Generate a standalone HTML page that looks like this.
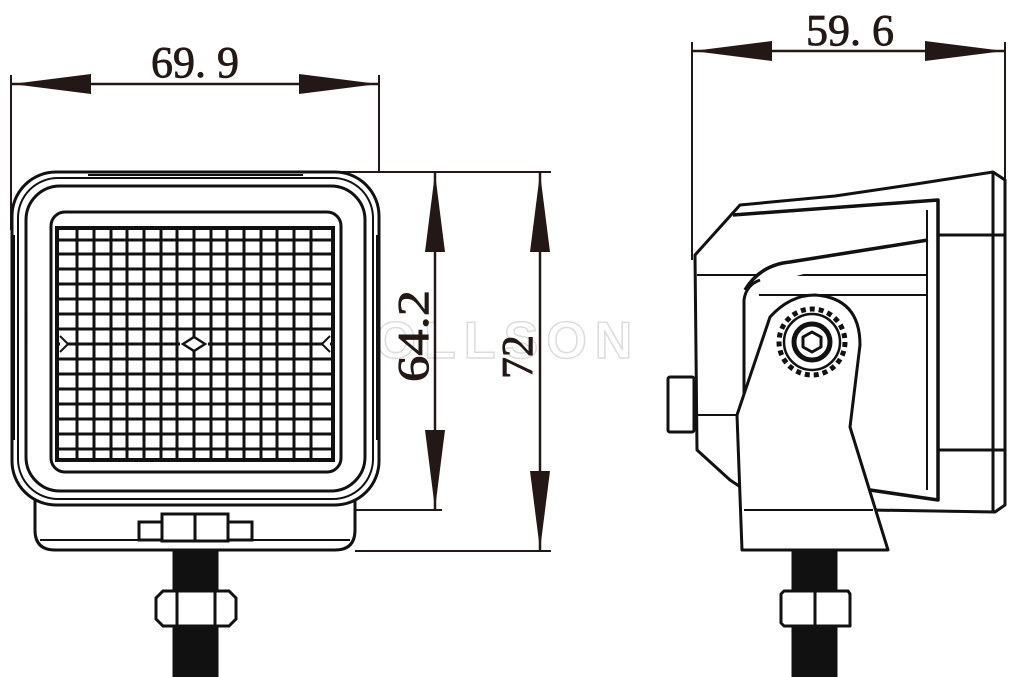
<!DOCTYPE html>
<html><head><meta charset="utf-8"><style>html,body{margin:0;padding:0;background:#fff}svg{display:block}</style></head><body>
<svg width="1024" height="677" viewBox="0 0 1024 677" xmlns="http://www.w3.org/2000/svg" font-family="Liberation Serif, serif">
<!-- watermark -->
<text x="508" y="358" font-family="Liberation Sans, sans-serif" font-size="52" font-weight="bold" fill="none" stroke="#dcdcdc" stroke-width="1.5" text-anchor="middle" letter-spacing="8">OLLSON</text>

<g stroke="#231815" fill="#231815">
<line x1="11" y1="75" x2="11" y2="230" stroke-width="2"/>
<line x1="379" y1="75" x2="379" y2="172" stroke-width="2"/>
<line x1="11" y1="84" x2="379" y2="84" stroke-width="2.5"/>
<polygon points="12,84 91,74 91,94" stroke="none"/>
<polygon points="378,84 299,74 299,94" stroke="none"/>
<line x1="692" y1="42" x2="692" y2="260" stroke-width="2"/>
<line x1="1005" y1="42" x2="1005" y2="180" stroke-width="2"/>
<line x1="692" y1="51" x2="1005" y2="51" stroke-width="2.5"/>
<polygon points="693,51 772,41 772,61" stroke="none"/>
<polygon points="1004,51 925,41 925,61" stroke="none"/>
<line x1="340" y1="172" x2="551" y2="172" stroke-width="2"/>
<line x1="355" y1="510" x2="442" y2="510" stroke-width="2"/>
<line x1="355" y1="551" x2="551" y2="551" stroke-width="2"/>
<line x1="435" y1="172" x2="435" y2="510" stroke-width="2.5"/>
<polygon points="435,173 425,252 445,252" stroke="none"/>
<polygon points="435,509 425,430 445,430" stroke="none"/>
<line x1="540" y1="172" x2="540" y2="551" stroke-width="2.5"/>
<polygon points="540,173 530,252 550,252" stroke="none"/>
<polygon points="540,550 530,471 550,471" stroke="none"/>
</g>
<g fill="#231815" font-size="44" stroke="#231815" stroke-width="0.8">
<text x="195" y="77" text-anchor="middle" textLength="88" lengthAdjust="spacingAndGlyphs">69. 9</text>
<text x="850" y="45" text-anchor="middle" textLength="88" lengthAdjust="spacingAndGlyphs">59. 6</text>
<text transform="translate(428,336) rotate(-90)" text-anchor="middle" textLength="92" lengthAdjust="spacingAndGlyphs">64.2</text>
<text transform="translate(532,357) rotate(-90)" text-anchor="middle">72</text>
</g>

<!-- FRONT VIEW -->
<g fill="none" stroke="#111" stroke-width="3">
<path d="M35,500 L35,530 Q35,550 55,550 L335,550 Q355,550 355,530 L355,500" fill="#fff"/>
<line x1="40" y1="540" x2="350" y2="540" stroke-width="2"/>
<rect x="12" y="172" width="367" height="333" rx="44" fill="#fff"/>
<rect x="18" y="178" width="355" height="321" rx="40" stroke-width="2"/>
<rect x="26" y="186" width="339" height="305" rx="34"/>
<line x1="88" y1="175" x2="303" y2="175" stroke-width="2"/>
<rect x="51" y="212" width="290" height="260" rx="14"/>
<rect x="57" y="228" width="276" height="232" stroke-width="4"/>
<line x1="14" y1="235" x2="14" y2="440" stroke-width="2"/>
<line x1="377" y1="235" x2="377" y2="440" stroke-width="2"/>
</g>
<g stroke="#111" stroke-width="3">
<line x1="77" y1="228" x2="77" y2="460"/><line x1="94" y1="228" x2="94" y2="460"/><line x1="111" y1="228" x2="111" y2="460"/><line x1="127" y1="228" x2="127" y2="460"/><line x1="144" y1="228" x2="144" y2="460"/><line x1="161" y1="228" x2="161" y2="460"/><line x1="177" y1="228" x2="177" y2="460"/><line x1="194" y1="228" x2="194" y2="460"/><line x1="211" y1="228" x2="211" y2="460"/><line x1="227" y1="228" x2="227" y2="460"/><line x1="244" y1="228" x2="244" y2="460"/><line x1="261" y1="228" x2="261" y2="460"/><line x1="277" y1="228" x2="277" y2="460"/><line x1="294" y1="228" x2="294" y2="460"/><line x1="311" y1="228" x2="311" y2="460"/>
<line x1="58" y1="240" x2="332" y2="240"/><line x1="58" y1="254" x2="332" y2="254"/><line x1="58" y1="269" x2="332" y2="269"/><line x1="58" y1="284" x2="332" y2="284"/><line x1="58" y1="299" x2="332" y2="299"/><line x1="58" y1="314" x2="332" y2="314"/><line x1="58" y1="329" x2="332" y2="329"/><line x1="58" y1="359" x2="332" y2="359"/><line x1="58" y1="374" x2="332" y2="374"/><line x1="58" y1="389" x2="332" y2="389"/><line x1="58" y1="404" x2="332" y2="404"/><line x1="58" y1="419" x2="332" y2="419"/><line x1="58" y1="434" x2="332" y2="434"/><line x1="58" y1="449" x2="332" y2="449"/>
<line x1="58" y1="344" x2="180" y2="344"/><line x1="208" y1="344" x2="332" y2="344"/>
</g>
<polygon points="183,344 194,337 205,344 194,351" fill="#fff" stroke="#111" stroke-width="2.5"/>
<polyline points="60,336 68,344 60,352" fill="#fff" stroke="#111" stroke-width="2"/>
<polyline points="330,336 322,344 330,352" fill="#fff" stroke="#111" stroke-width="2"/>
<g fill="#fff" stroke="#111" stroke-width="3">
<rect x="139" y="522" width="26" height="18"/>
<rect x="226" y="522" width="26" height="18"/>
<rect x="162" y="514" width="33" height="27"/>
<rect x="195" y="514" width="33" height="27"/>
<rect x="174" y="552" width="43" height="125" fill="#111"/>
<path d="M163,591 L229,591 L236,598 L236,619 L229,626 L163,626 L156,619 L156,598 Z"/>
<line x1="177" y1="591" x2="177" y2="626"/><line x1="215" y1="591" x2="215" y2="626"/>
</g>

<!-- SIDE VIEW -->
<g fill="#fff" stroke="#111" stroke-width="3" stroke-linejoin="round">
<path d="M695,255 L740,205 L835,196 L916,184 L993,172 L1005,180 L1005,505 L995,512 L870,510 L760,500 L730,480 L697,450 Z"/>
<line x1="993" y1="172" x2="993" y2="512"/>
<line x1="938" y1="235" x2="1005" y2="235"/>
<line x1="938" y1="450" x2="1005" y2="450"/>
<path d="M733,215 L938,200 L938,500 L870,490 L760,470" stroke-width="3.5"/>
<line x1="927" y1="210" x2="927" y2="490" stroke-width="2"/>
<line x1="697" y1="275" x2="928" y2="275" stroke-width="2"/>
<line x1="755" y1="295" x2="928" y2="295" stroke-width="2"/>
<path d="M745,290 Q760,265 790,262 L928,240" stroke-width="3.5"/>
<line x1="697" y1="415" x2="740" y2="415" stroke-width="2"/>
<rect x="668" y="377" width="26" height="55" rx="2"/>
<path d="M744,515 L744,400 L744,300 Q746,285 760,280"/>
<path d="M742,550 L737,415 L770,317 Q790,295 815,295 Q860,298 860,345 L850,427 L888,550 Z"/>
<line x1="744" y1="510" x2="873" y2="510" stroke-width="2"/>
<circle cx="812" cy="342" r="33" stroke-width="5" stroke-dasharray="5,4"/>
<circle cx="812" cy="342" r="28" stroke-width="2.5"/>
<circle cx="812" cy="342" r="18" stroke-width="5"/>
<polygon points="812,332 821,337 821,347 812,352 803,347 803,337" stroke-width="3"/>
<rect x="793" y="552" width="43" height="125" fill="#111"/>
<path d="M784,591 L848,591 L850,594 L850,626 L784,626 L781,623 L781,594 Z"/>
<line x1="815" y1="591" x2="815" y2="626"/>
</g>
</svg>
</body></html>
